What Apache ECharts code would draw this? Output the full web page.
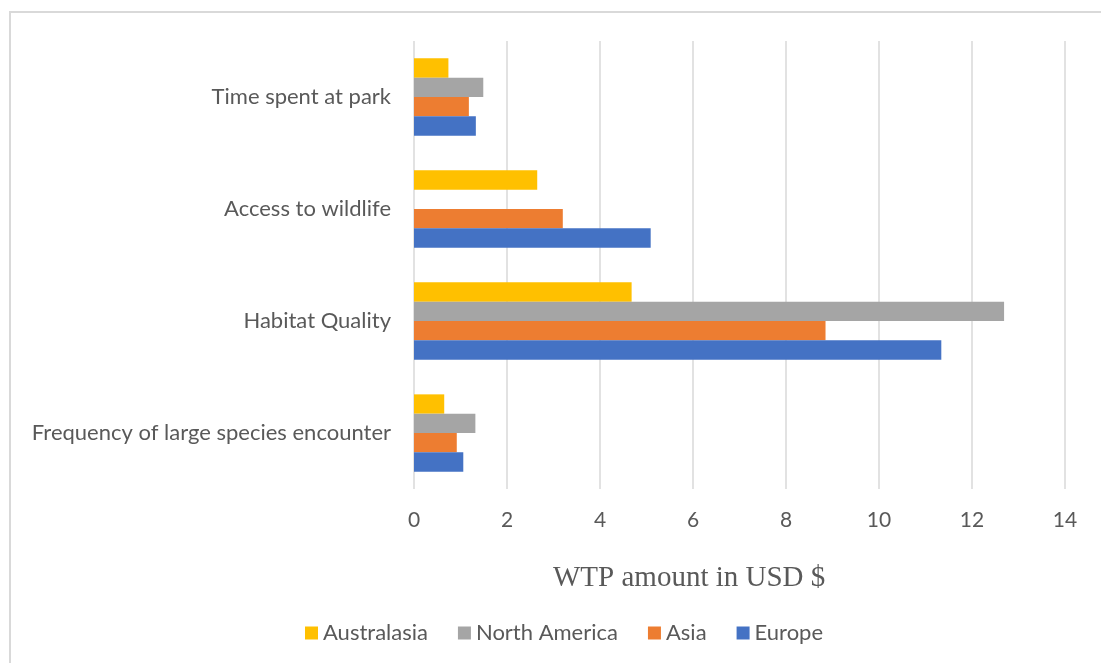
<!DOCTYPE html>
<html>
<head>
<meta charset="utf-8">
<style>
  html, body { margin: 0; padding: 0; background: #fff; }
  #chart { width: 1101px; height: 663px; }
</style>
<script src="https://cdn.jsdelivr.net/npm/echarts@6/dist/echarts.min.js"></script>
</head>
<body>
<div id="chart"></div>
<script>
// Willingness-to-pay by attribute and region (USD)
const categories = [
  'Frequency of large species encounter',
  'Habitat Quality',
  'Access to wildlife',
  'Time spent at park'
];
const europe       = [1.06, 11.34, 5.09, 1.33];
const asia         = [0.92, 8.85, 3.20, 1.18];
const northAmerica = [1.32, 12.69, 0, 1.49];
const australasia  = [0.65, 4.68, 2.65, 0.74];
const xTicks = [0, 2, 4, 6, 8, 10, 12, 14];
const axisTitle = 'WTP amount in USD $';

const labelFont = 'Lato, "Open Sans", sans-serif';
const textColor = '#595959';

const chart = echarts.init(document.getElementById('chart'));

function barSeries(name, data, color) {
  return {
    name: name,
    type: 'bar',
    data: data,
    barGap: '0%',
    barCategoryGap: '31%',
    itemStyle: { color: color },
    emphasis: { disabled: true }
  };
}

chart.setOption({
  animation: false,
  backgroundColor: '#ffffff',
  grid: { left: 414, right: 36, top: 41, bottom: 174, containLabel: false },
  xAxis: {
    type: 'value',
    min: xTicks[0],
    max: xTicks[xTicks.length - 1],
    interval: xTicks[1] - xTicks[0],
    axisLine: { show: false },
    axisTick: { show: false },
    axisLabel: { color: textColor, fontSize: 21, fontFamily: labelFont, margin: 21 },
    splitLine: { show: true, lineStyle: { color: '#d9d9d9', width: 1.5 } }
  },
  yAxis: {
    type: 'category',
    data: categories,
    axisLine: { show: false },
    axisTick: { show: false },
    axisLabel: { color: textColor, fontSize: 22, fontFamily: labelFont, margin: 23 },
    splitLine: { show: false }
  },
  title: {
    text: axisTitle,
    left: 548,
    top: 559,
    textStyle: {
      color: textColor,
      fontSize: 29,
      fontWeight: 'normal',
      fontFamily: '"Liberation Serif", "Times New Roman", serif'
    }
  },
  legend: {
    data: ['Australasia', 'North America', 'Asia', 'Europe'],
    left: 300,
    top: 617,
    itemWidth: 13,
    itemHeight: 13,
    itemGap: 30,
    icon: 'rect',
    textStyle: { color: textColor, fontSize: 22, fontFamily: labelFont }
  },
  graphic: [{
    type: 'rect',
    shape: { x: 10, y: 12, width: 1200, height: 800 },
    style: { fill: 'none', stroke: '#d9d9d9', lineWidth: 2 },
    silent: true
  }],
  // Series listed top-to-bottom within each category band
  series: [
    barSeries('Australasia', australasia, '#FFC000'),
    barSeries('North America', northAmerica, '#A5A5A5'),
    barSeries('Asia', asia, '#ED7D31'),
    barSeries('Europe', europe, '#4472C4')
  ]
});
</script>
</body>
</html>
